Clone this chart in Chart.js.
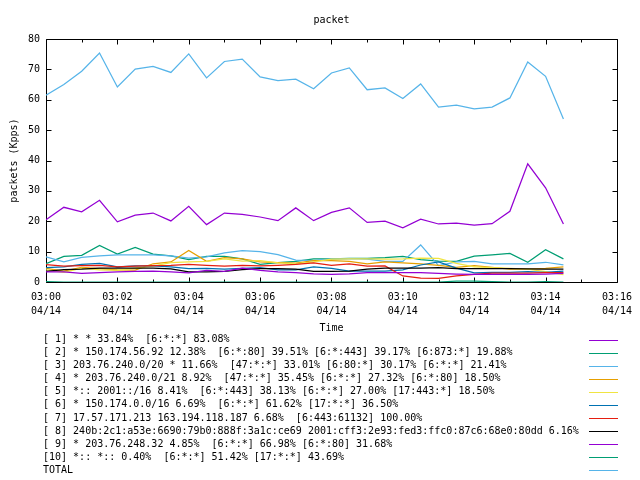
<!DOCTYPE html>
<html><head><meta charset="utf-8">
<script src="https://cdn.jsdelivr.net/npm/chart.js@4.4.1/dist/chart.umd.min.js"></script>
<style>html,body{margin:0;padding:0;background:#fff}canvas{display:block}</style>
</head><body>
<canvas id="c" width="640" height="480"></canvas>
<script>
const chartTitle = 'packet';
const yAxisTitle = 'packets (Kpps)';
const xAxisTitle = 'Time';
const dateLabel = '04/14';
const startTime = '03:00:00';
const xTickLabels = ['03:00','03:02','03:04','03:06','03:08','03:10','03:12','03:14','03:16'];
const times = ['03:00:00','03:00:30','03:01:00','03:01:30','03:02:00','03:02:30','03:03:00','03:03:30',
  '03:04:00','03:04:30','03:05:00','03:05:30','03:06:00','03:06:30','03:07:00','03:07:30',
  '03:08:00','03:08:30','03:09:00','03:09:30','03:10:00','03:10:30','03:11:00','03:11:30',
  '03:12:00','03:12:30','03:13:00','03:13:30','03:14:00','03:14:30'];

const seriesNames = [
  '[ 1] * * 33.84%  [6:*:*] 83.08%',
  '[ 2] * 150.174.56.92 12.38%  [6:*:80] 39.51% [6:*:443] 39.17% [6:873:*] 19.88%',
  '[ 3] 203.76.240.0/20 * 11.66%  [47:*:*] 33.01% [6:80:*] 30.17% [6:*:*] 21.41%',
  '[ 4] * 203.76.240.0/21 8.92%  [47:*:*] 35.45% [6:*:*] 27.32% [6:*:80] 18.50%',
  '[ 5] *:: 2001::/16 8.41%  [6:*:443] 38.13% [6:*:*] 27.00% [17:443:*] 18.50%',
  '[ 6] * 150.174.0.0/16 6.69%  [6:*:*] 61.62% [17:*:*] 36.50%',
  '[ 7] 17.57.171.213 163.194.118.187 6.68%  [6:443:61132] 100.00%',
  '[ 8] 240b:2c1:a53e:6690:79b0:888f:3a1c:ce69 2001:cff3:2e93:fed3:ffc0:87c6:68e0:80dd 6.16%',
  '[ 9] * 203.76.248.32 4.85%  [6:*:*] 66.98% [6:*:80] 31.68%',
  '[10] *:: *:: 0.40%  [6:*:*] 51.42% [17:*:*] 43.69%',
  'TOTAL'
];
const seriesColors = ['#9400d3','#009e73','#56b4e9','#e69f00','#f0e442','#0072b2','#e51e10','#000000','#9400d3','#009e73','#56b4e9'];

const s1 = [20.5,24.6,23.1,26.9,19.8,22.0,22.7,20.1,24.9,18.9,22.7,22.3,21.4,20.2,24.4,20.2,22.9,24.4,19.6,20.0,17.8,20.7,19.1,19.4,18.7,19.2,23.3,38.9,31.0,19.1];
const s2 = [6.0,8.4,8.8,12.0,9.2,11.4,9.2,8.6,7.4,8.4,8.4,7.6,5.8,6.4,6.8,7.6,7.6,7.8,7.8,8.0,8.4,7.4,6.9,6.8,8.5,8.9,9.4,6.5,10.6,7.6];
const s3 = [8.3,6.6,8.1,8.6,8.9,8.9,8.9,8.6,7.9,8.3,9.6,10.3,10.0,9.0,7.2,7.0,7.6,7.7,7.5,6.8,6.8,12.2,5.4,6.6,6.8,6.0,6.0,6.0,6.5,5.6];
const s4 = [4.5,3.6,4.8,4.4,4.0,3.9,6.0,6.6,10.4,6.8,8.0,7.6,6.6,6.4,6.2,7.0,7.0,6.8,6.0,6.6,6.3,6.0,5.5,4.8,5.4,4.8,4.2,4.2,4.5,5.0];
const s5 = [4.0,3.2,4.6,4.0,3.8,4.6,5.2,6.4,6.6,6.8,7.6,6.9,7.0,6.3,6.0,6.6,7.5,7.6,7.6,7.5,7.6,7.9,7.8,6.1,5.0,4.7,4.5,4.2,3.4,2.4];
const s6 = [4.7,5.0,5.8,6.1,5.0,5.3,5.3,5.0,4.4,4.5,4.2,4.5,4.7,4.0,4.0,5.0,4.5,3.6,3.6,3.6,4.0,5.6,6.6,4.6,3.0,3.2,3.2,3.4,3.2,3.6];
const s7 = [5.7,5.2,5.4,5.5,5.0,5.2,5.4,5.5,5.8,5.5,5.2,5.5,5.3,5.5,5.8,6.3,5.5,6.0,5.2,5.3,2.0,1.3,1.2,2.0,2.5,2.9,2.9,2.9,3.1,3.1];
const s8 = [3.5,4.1,4.2,4.6,4.6,4.6,4.6,4.3,3.3,3.3,3.5,4.1,4.4,4.4,4.2,3.5,3.5,3.6,4.2,4.6,4.6,4.6,4.7,4.4,4.4,4.4,4.4,4.3,4.2,4.2];
const s9 = [3.3,3.3,2.8,3.1,3.3,3.5,3.6,3.3,3.0,3.8,3.5,4.6,3.8,3.3,3.1,2.7,2.5,2.7,3.1,3.1,3.1,3.1,2.8,2.6,2.5,2.5,2.5,2.5,2.6,2.8];
const s10 = [0.1,0,0,0,0,0,0,0,0,0,0,0,0,0,0,0,0,0,0,0,0,0,0,0.3,0.3,0.1,0,0,0.1,0];
const total = [61.5,65.0,69.4,75.4,64.2,70.1,71.0,69.0,75.1,67.2,72.6,73.4,67.5,66.3,66.8,63.6,68.8,70.5,63.3,63.9,60.4,65.2,57.6,58.2,57.0,57.6,60.6,72.4,67.7,53.7];
const seriesValues = [s1,s2,s3,s4,s5,s6,s7,s8,s9,s10,total];

function toMin(t){ const p=t.split(':').map(Number); return p[0]*60+p[1]+(p[2]||0)/60; }
const t0 = toMin(startTime);
const xs = times.map(t => toMin(t) - t0);

const FONT = "'DejaVu Sans Mono', 'Liberation Mono', monospace";

const datasets = seriesValues.map((vals, i) => ({
  label: seriesNames[i],
  data: vals.map((v, k) => ({x: xs[k], y: v})),
  borderColor: seriesColors[i],
  backgroundColor: seriesColors[i],
  borderWidth: 1.25,
  pointRadius: 0,
  tension: 0,
  fill: false,
  order: seriesValues.length - i
}));

const framePlugin = {
  id: 'frame',
  beforeDatasetsDraw(chart) {
    const {ctx, chartArea: a, scales: {x, y}} = chart;
    ctx.save();
    ctx.strokeStyle = '#000';
    ctx.lineWidth = 1;
    const L = Math.round(a.left) + 0.5, R = Math.round(a.right) + 0.5;
    const T = Math.round(a.top) + 0.5, B = Math.round(a.bottom) + 0.5;
    ctx.beginPath();
    ctx.rect(L, T, R - L, B - T);
    x.ticks.forEach(t => {
      const px = Math.round(x.getPixelForValue(t.value)) + 0.5;
      const len = (t.value % 2 === 0) ? 5 : 3;
      ctx.moveTo(px, B); ctx.lineTo(px, B - len);
      ctx.moveTo(px, T); ctx.lineTo(px, T + len);
    });
    y.ticks.forEach(t => {
      const py = Math.round(y.getPixelForValue(t.value)) + 0.5;
      ctx.moveTo(L, py); ctx.lineTo(L + 5, py);
      ctx.moveTo(R, py); ctx.lineTo(R - 5, py);
    });
    ctx.stroke();
    ctx.restore();
  },
  afterDraw(chart) {
    const {ctx, chartArea: a} = chart;
    ctx.save();
    ctx.fillStyle = '#000';
    ctx.font = '10px ' + FONT;
    ctx.textAlign = 'center';
    ctx.textBaseline = 'middle';
    const cx = (a.left + a.right) / 2;
    ctx.fillText(chartTitle, cx, 20);
    ctx.fillText(xAxisTitle, cx, 328);
    ctx.save();
    ctx.translate(14, (a.top + a.bottom) / 2);
    ctx.rotate(-Math.PI / 2);
    ctx.fillText(yAxisTitle, 0, 0);
    ctx.restore();
    ctx.textAlign = 'left';
    chart.data.datasets.forEach((ds, i) => {
      const ry = 339.5 + i * 13.07;
      ctx.fillStyle = '#000';
      ctx.fillText(ds.label, 43, ry);
      ctx.strokeStyle = ds.borderColor;
      ctx.lineWidth = 1;
      ctx.beginPath();
      const ly = Math.round(ry) + 0.5;
      ctx.moveTo(589, ly); ctx.lineTo(618, ly);
      ctx.stroke();
    });
    ctx.restore();
  }
};

new Chart(document.getElementById('c'), {
  type: 'line',
  data: { datasets },
  options: {
    responsive: false,
    animation: false,
    devicePixelRatio: 1,
    layout: { padding: { left: 0, top: 39, right: 18, bottom: 158 } },
    plugins: { legend: { display: false }, title: { display: false }, tooltip: { enabled: false } },
    scales: {
      x: {
        type: 'linear', min: 0, max: 16,
        afterFit: s => { s.height = 40; },
        grid: { display: false, drawTicks: false },
        border: { display: false },
        ticks: {
          stepSize: 1, autoSkip: false, maxRotation: 0, padding: 8,
          color: '#000', font: { family: FONT, size: 10, lineHeight: 1.45 },
          callback: v => (v % 2 === 0) ? [xTickLabels[v / 2], dateLabel] : ''
        }
      },
      y: {
        min: 0, max: 80,
        afterFit: s => { s.width = 46; },
        grid: { display: false, drawTicks: false },
        border: { display: false },
        ticks: { stepSize: 10, padding: 6, color: '#000', font: { family: FONT, size: 10 } }
      }
    }
  },
  plugins: [framePlugin]
});
</script>
</body></html>
